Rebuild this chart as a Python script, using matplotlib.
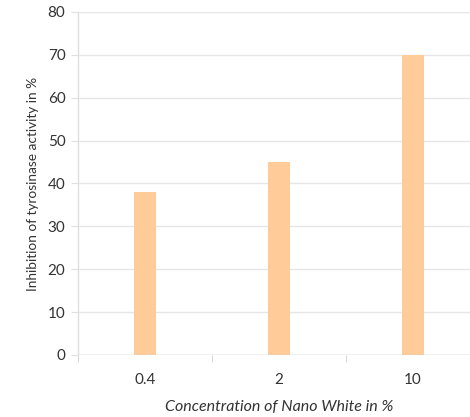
import matplotlib
matplotlib.use("Agg")
import matplotlib.pyplot as plt
import numpy as np

categories = ["0.4", "2", "10"]
values = [38, 45, 70]
yticks = [0, 10, 20, 30, 40, 50, 60, 70, 80]

plt.rcParams['font.family'] = ['Lato', 'DejaVu Sans']

fig = plt.figure(figsize=(4.7, 4.17), dpi=100)
left = 78 / 470
right = 480 / 470
bottom = (417 - 355) / 417
top = (417 - 12) / 417
ax = fig.add_axes([left, bottom, right - left, top - bottom])

x = np.arange(len(categories))
ax.bar(x, values, width=0.164, color="#FFCB99", zorder=3)

ax.set_xlim(-0.5, len(categories) - 0.5)
ax.set_ylim(0, 80)
ax.set_yticks(yticks)
ax.set_yticklabels([str(t) for t in yticks])
ax.set_xticks(x)
ax.set_xticklabels(categories)
ax.set_xticks(np.arange(len(categories) + 1) - 0.5, minor=True)

ax.grid(axis="y", color="#e6e6e6", linewidth=1, zorder=0)
for s in ["top", "right", "bottom"]:
    ax.spines[s].set_visible(False)
ax.spines["left"].set_color("#e0e0e0")
ax.spines["left"].set_linewidth(1)
ax.axhline(0, color="#d0d0d0", linewidth=1, zorder=4)

ax.tick_params(axis="y", length=5, color="#e0e0e0", labelsize=11, labelcolor="#333333", pad=4)
ax.tick_params(axis="x", which="major", length=0, labelsize=11, labelcolor="#333333", pad=13)
ax.tick_params(axis="x", which="minor", length=5, color="#d0d0d0")

ax.set_xlabel("Concentration of Nano White in %", fontsize=11.5, style="italic", color="#333333", labelpad=9)
ax.set_ylabel("Inhibition of tyrosinase activity in %", fontsize=9.8, color="#333333", labelpad=6)

fig.savefig("out.png", dpi=100)
